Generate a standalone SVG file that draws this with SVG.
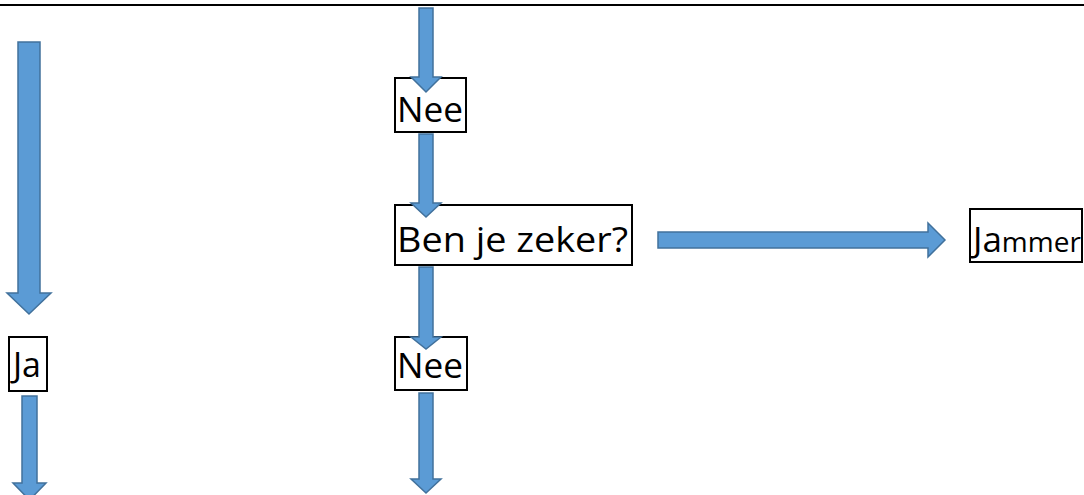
<svg xmlns="http://www.w3.org/2000/svg" width="1084" height="495" viewBox="0 0 1084 495">
<style>
.box{fill:#fff;stroke:#000;stroke-width:2}
.t{font-family:"Open Sans","Liberation Sans",sans-serif;font-size:35px;fill:#000}
.s{font-size:28px}
.arr{fill:#5B9BD5;stroke:#41719C;stroke-width:1.5;stroke-linejoin:miter}
</style>
<rect width="1084" height="495" fill="#fff"/>
<line x1="0" y1="5" x2="1084" y2="5" stroke="#000" stroke-width="2"/>
<g id="node-nee1"><rect class="box" x="395" y="78" width="71" height="54"/><text class="t" x="397" y="122" textLength="66" lengthAdjust="spacingAndGlyphs">Nee</text></g>
<g id="node-ben"><rect class="box" x="395" y="205" width="237" height="60"/><text class="t" x="397" y="252" textLength="231" lengthAdjust="spacingAndGlyphs">Ben je zeker?</text></g>
<g id="node-nee2"><rect class="box" x="395" y="337" width="72" height="53"/><text class="t" x="397" y="378" textLength="66" lengthAdjust="spacingAndGlyphs">Nee</text></g>
<g id="node-ja"><rect class="box" x="9" y="337" width="38" height="54"/><text class="t" x="13" y="377" textLength="28" lengthAdjust="spacingAndGlyphs">Ja</text></g>
<g id="node-jammer"><rect class="box" x="970" y="209" width="112" height="53"/><text class="t" x="973" y="252">Ja<tspan class="s">mmer</tspan></text></g>
<g id="connectors">
<polygon class="arr" points="419,8 433,8 433,77 441,77 426,92 411,77 419,77"/>
<polygon class="arr" points="419,134 433,134 433,203 441,203 426,217 411,203 419,203"/>
<polygon class="arr" points="419,267 433,267 433,337 441,337 426,349 411,337 419,337"/>
<polygon class="arr" points="419,393 433,393 433,479 441,479 426,493 411,479 419,479"/>
<polygon class="arr" points="658,232 928,232 928,223 945,240 928,257 928,248 658,248"/>
<polygon class="arr" points="18,42 40,42 40,293 51,293 29,314 7,293 18,293"/>
<polygon class="arr" points="22,396 37,396 37,483 46,483 29.5,500 13,483 22,483"/>
</g>
</svg>
